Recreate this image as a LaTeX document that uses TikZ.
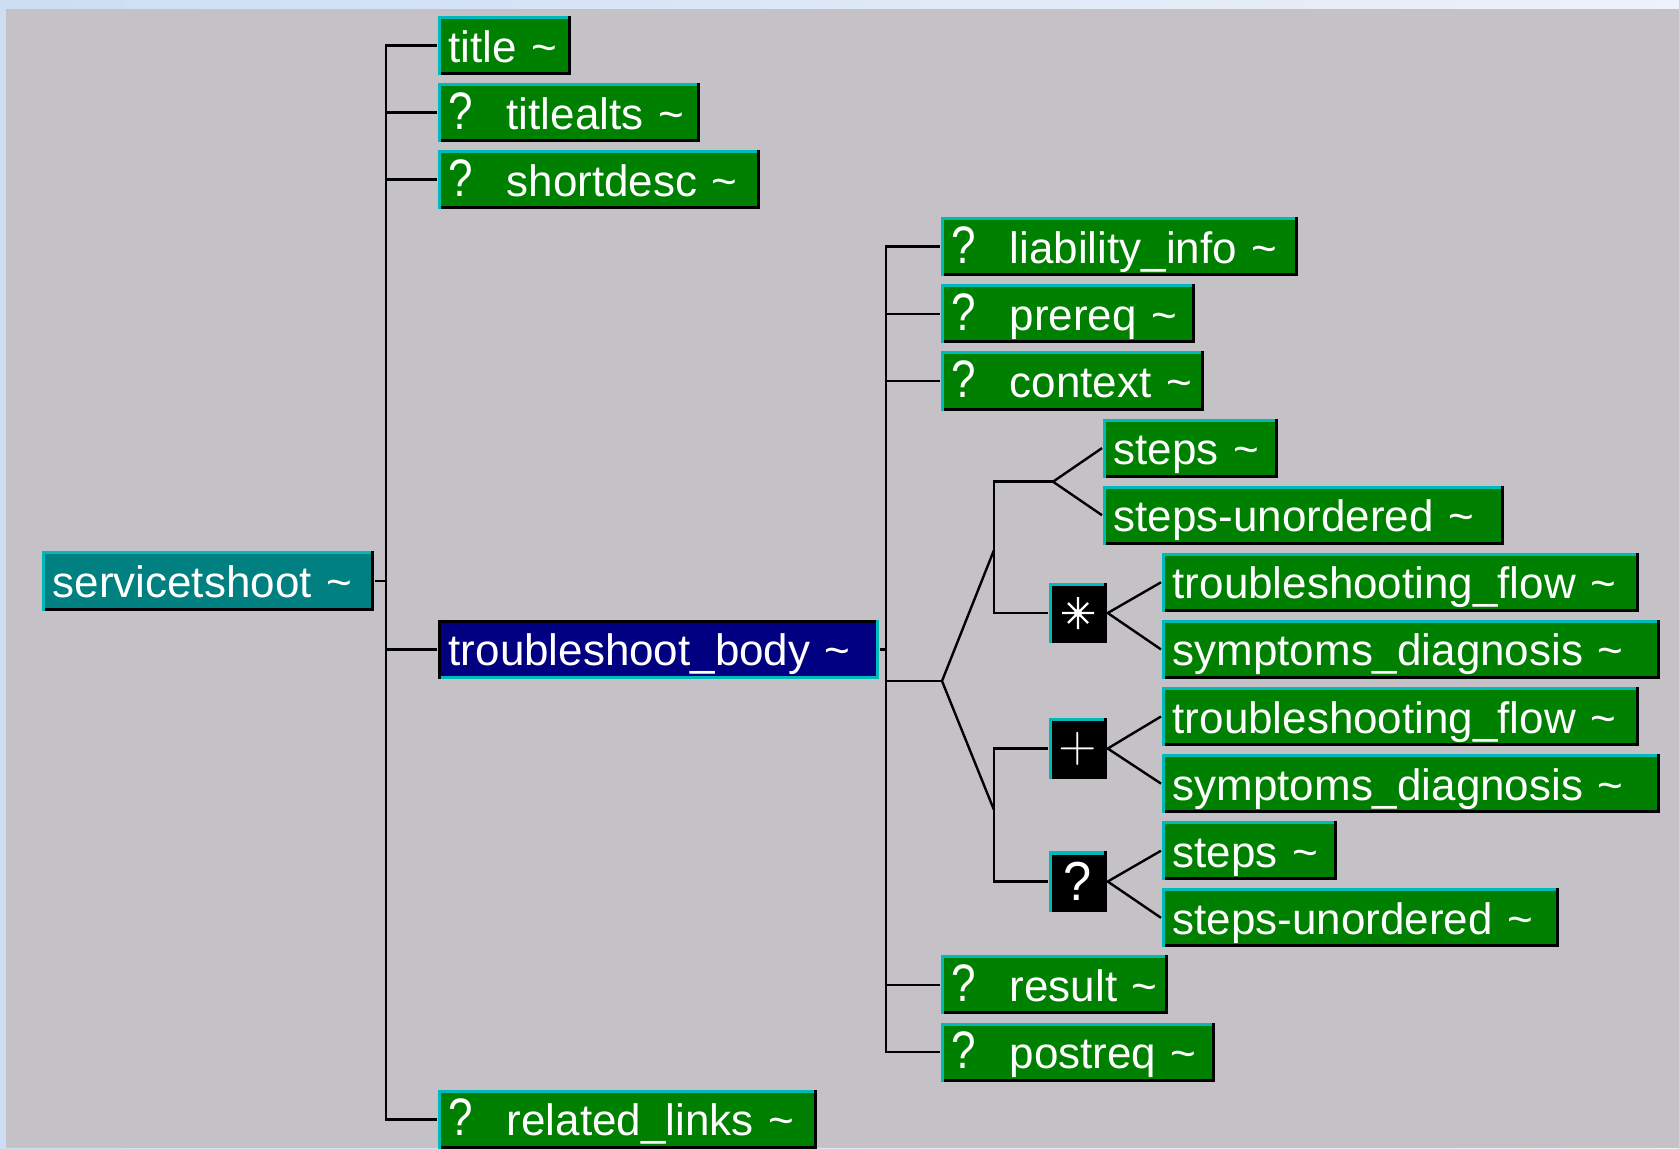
\documentclass[tikz,border=0pt]{standalone}
\usepackage{fontspec}
\setmainfont{Liberation Sans}
\usepackage{graphicx}

\definecolor{panelgray}{RGB}{196,194,198}
\definecolor{elemgreen}{RGB}{0,128,0}
\definecolor{rootteal}{RGB}{0,128,128}
\definecolor{selnavy}{RGB}{0,0,128}
\definecolor{edgecyan}{RGB}{0,186,186}
\definecolor{deskblue}{RGB}{204,221,244}
\definecolor{deskwhite}{RGB}{238,242,250}

\newcommand\elemfont{\fontsize{12.5}{14}\selectfont}
\newcommand\tildemark{~\textasciitilde}
\newcommand\optmark{\makebox[0.58cm][l]{\scalebox{1}[1.2]{?}}}

\tikzset{
  edges/.style 2 args={path picture={
      \fill[#1] (path picture bounding box.north west) rectangle ([yshift=-0.03cm]path picture bounding box.north east);
      \fill[#2] (path picture bounding box.south west) rectangle ([yshift=0.03cm]path picture bounding box.south east);
      \fill[#2] (path picture bounding box.north east) rectangle ([xshift=-0.03cm]path picture bounding box.south east);
      \fill[#1] (path picture bounding box.north west) rectangle ([xshift=0.03cm]path picture bounding box.south west);
  }},
  elem/.style={fill=elemgreen, text=white, font=\elemfont, anchor=west, align=left,
    inner xsep=0.11cm, inner ysep=0pt, text height=0.46cm, text depth=0.13cm,
    text width=#1, edges={edgecyan}{black}},
  occ/.style={fill=black, text=white, minimum width=0.58cm, minimum height=0.6cm,
    inner sep=0pt, edges={edgecyan}{black}},
  tree/.style={draw=black, line width=0.028cm},
  fork/.style={draw=black, line width=0.024cm},
  glyph/.style={draw=white, line width=0.022cm}
}

\begin{document}
\begin{tikzpicture}[x=0.01cm, y=-0.01cm]
  %%%%% START %%%%%
  \useasboundingbox (0,0) rectangle (1679,1148);
  \shade[left color=deskblue, right color=deskwhite] (0,0) rectangle (1679,1148);
  \fill[panelgray] (6,9) rectangle (1679,1148);

  % root and first level
  \node[elem=3.10cm, fill=rootteal] (root) at (41,581) {servicetshoot\tildemark};

  \node[elem=1.11cm] (title) at (437,45.5) {title\tildemark};
  \node[elem=2.40cm] (titlealts) at (437,112.6) {\optmark titlealts\tildemark};
  \node[elem=3.00cm] (shortdesc) at (437,179.7) {\optmark shortdesc\tildemark};
  \node[elem=4.19cm, fill=selnavy, edges={black}{edgecyan}] (body) at (437,649.4) {troubleshoot\_body\tildemark};
  \node[elem=3.57cm] (rellinks) at (437,1119.1) {\optmark related\_links\tildemark};

  % children of troubleshoot_body
  \node[elem=3.35cm] (liability) at (940,246.8) {\optmark liability\_info\tildemark};
  \node[elem=2.32cm] (prereq) at (940,313.9) {\optmark prereq\tildemark};
  \node[elem=2.41cm] (context) at (940,381) {\optmark context\tildemark};
  \node[elem=2.05cm] (result) at (940,984.9) {\optmark result\tildemark};
  \node[elem=2.52cm] (postreq) at (940,1052) {\optmark postreq\tildemark};

  % choice group
  \node[elem=1.53cm] (steps) at (1102,448.1) {steps\tildemark};
  \node[elem=3.79cm] (stepsun) at (1102,515.2) {steps-unordered\tildemark};

  \node[occ] (starocc) at (1078,613) {};
  \node[elem=4.55cm] (flowA) at (1161,582.3) {troubleshooting\_flow\tildemark};
  \node[elem=4.76cm] (diagA) at (1161,649.4) {symptoms\_diagnosis\tildemark};

  \node[occ] (plusocc) at (1078,748.5) {\fontsize{14}{14}\selectfont$+$};
  \node[elem=4.55cm] (flowB) at (1161,716.5) {troubleshooting\_flow\tildemark};
  \node[elem=4.76cm] (diagB) at (1161,783.6) {symptoms\_diagnosis\tildemark};

  \node[occ, font=\elemfont] (optocc) at (1078,881.5) {\scalebox{1.15}[1.25]{?}};
  \node[elem=1.53cm] (stepsB) at (1161,850.7) {steps\tildemark};
  \node[elem=3.75cm] (stepsunB) at (1161,917.8) {steps-unordered\tildemark};

  % star mark
  \draw[glyph] (starocc) +(-16,0) -- +(16,0) +(0,-16) -- +(0,16)
    +(-10,-10) -- +(10,10) +(-10,10) -- +(10,-10);
  \fill[white] (starocc) circle[radius=0.04cm];

  % connectors
  \coordinate (trunkA) at (386,0);
  \coordinate (trunkB) at (886,0);
  \coordinate (colC) at (994,0);

  \draw[tree] (title.west) -- (title.west -| trunkA) -- (rellinks.west -| trunkA) -- (rellinks.west);
  \foreach \n in {titlealts,shortdesc,body}
    \draw[tree] (\n.west) -- (\n.west -| trunkA);
  \draw[tree] (root.east) -- (root.east -| trunkA);

  \draw[tree] (liability.west) -- (liability.west -| trunkB) -- (postreq.west -| trunkB) -- (postreq.west);
  \foreach \n in {prereq,context,result}
    \draw[tree] (\n.west) -- (\n.west -| trunkB);
  \draw[tree] (body.east) -- (body.east -| trunkB);

  \coordinate (choice) at (942,681);
  \coordinate (seqA) at (994,550);
  \coordinate (seqB) at (994,810);
  \coordinate (stepsfork) at (1053,481.7);
  \draw[tree] (choice -| trunkB) -- (choice);
  \draw[fork] (seqA) -- (choice) -- (seqB);

  \draw[tree] (stepsfork) -- (stepsfork -| colC) -- (starocc.west -| colC) -- (starocc.west);
  \draw[tree] (plusocc.west) -- (plusocc.west -| colC) -- (optocc.west -| colC) -- (optocc.west);

  \draw[fork] (steps.west) -- (stepsfork) -- (stepsun.west);
  \draw[fork] (flowA.west) -- (starocc.east) -- (diagA.west);
  \draw[fork] (flowB.west) -- (plusocc.east) -- (diagB.west);
  \draw[fork] (stepsB.west) -- (optocc.east) -- (stepsunB.west);
  %%%%% END %%%%%
\end{tikzpicture}
\end{document}
